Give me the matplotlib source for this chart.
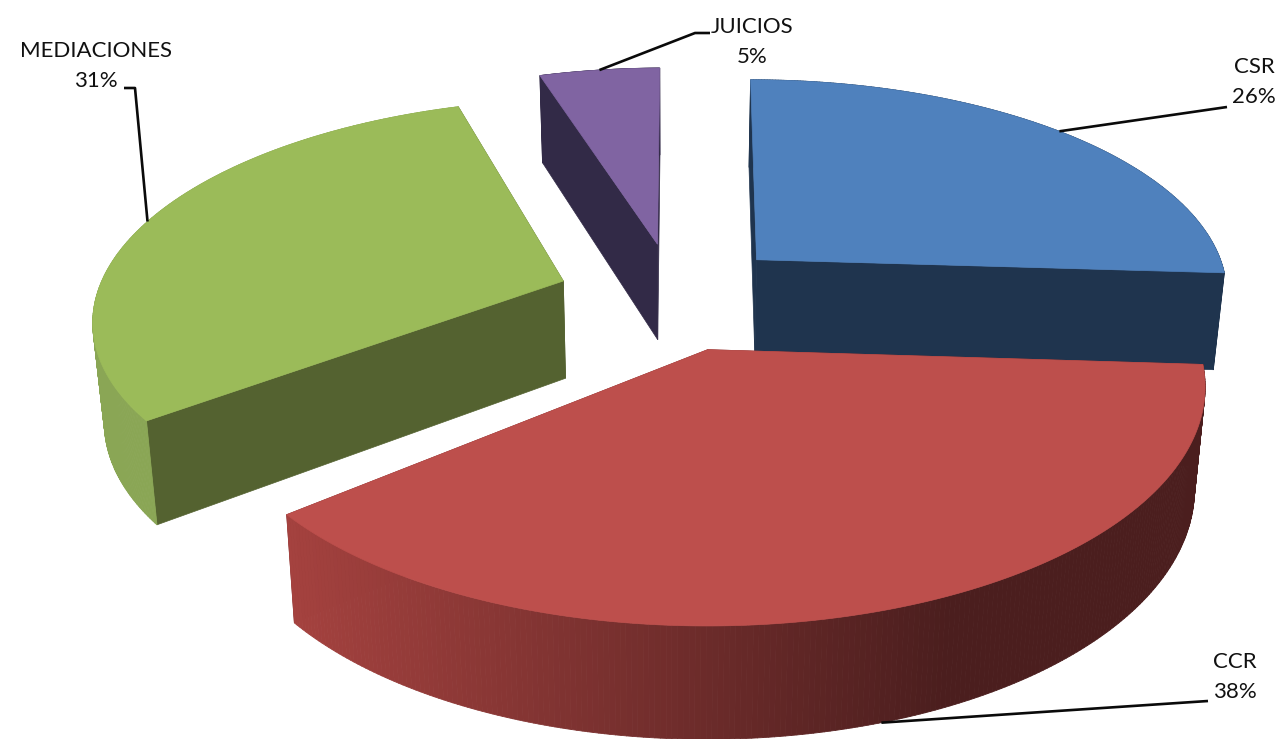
import numpy as np
import matplotlib
matplotlib.use("Agg")
import matplotlib.pyplot as plt
from matplotlib.collections import PolyCollection
from matplotlib.colors import to_rgb

labels = ["CSR", "CCR", "MEDIACIONES", "JUICIOS"]
values = [26, 38, 31, 5]
top_colors = ["#4f81bd", "#bd4f4c", "#9bbb59", "#8064a2"]
wall_colors = ["#1f344e", "#7a2f2d", "#546230", "#322a47"]
rim_colors = [("#1f344e", "#1f344e"), ("#4b1e1e", "#a5423f"), ("#8aa655", "#8aa655"), ("#322a47", "#322a47")]
draw_order = [3, 2, 0, 1]
label_pos = [(1254, 82), (1235, 677), (96, 66), (752, 42)]
elbow_pos = [(1227, 107), (1208, 701), (135, 88), (695, 33)]
elbow_end = [(1227, 107), (1208, 701), (124, 88), (710, 33)]
start_shift = [0, 0, 2.0, 0]      # degrees
end_shift = [0, 0, 0.2, -0.7]     # degrees
slice_dx = [0, 0, 5, 3]           # pixels
slice_scale = [1, 0.995, 0.98, 1]

CX, CY, RX, RY, P, H, EXPL, BOT, SHEAR = 671, 296, 476, 217.5, 0.152, 98, 0.25, 0.98, 6

fig = plt.figure(figsize=(12.83, 7.39), dpi=100)
ax = fig.add_axes([0, 0, 1, 1])
ax.set_xlim(0, 1283)
ax.set_ylim(739, 0)
ax.axis("off")


def project(X, Y, bottom=False, dx=0):
    w = 1 + P * Y
    x = CX + dx + (RX * X + SHEAR * Y) / w
    y = CY - RY * Y / w
    if bottom:
        x = CX + (x - CX) * BOT
        y = y + H / w ** 0.7
    return x, y


fracs = np.array(values) / sum(values)
edges = np.concatenate([[0], np.cumsum(fracs)]) * 2 * np.pi

for i in draw_order:
    a0, a1 = edges[i], edges[i + 1]
    mid = (a0 + a1) / 2
    ox, oy = EXPL * np.sin(mid), EXPL * np.cos(mid)
    th = np.linspace(a0 + np.radians(start_shift[i]), a1 + np.radians(end_shift[i]), 240)
    X = ox + slice_scale[i] * np.sin(th)
    Y = oy + slice_scale[i] * np.cos(th)
    dx = slice_dx[i]
    tx, ty = project(X, Y, dx=dx)
    bx, by = project(X, Y, True, dx=dx)
    apx, apy = project(ox, oy, dx=dx)
    abx, aby = project(ox, oy, True, dx=dx)
    # cut faces
    for px, py, qx, qy in ((tx[0], ty[0], bx[0], by[0]), (tx[-1], ty[-1], bx[-1], by[-1])):
        ax.fill([apx, px, qx, abx], [apy, py, qy, aby], color=wall_colors[i], lw=0.5, zorder=1)
    # outer rim
    c_right, c_left = np.array(to_rgb(rim_colors[i][0])), np.array(to_rgb(rim_colors[i][1]))
    quads, cols = [], []
    for k in range(len(th) - 1):
        quads.append([(tx[k], ty[k]), (tx[k + 1], ty[k + 1]), (bx[k + 1], by[k + 1]), (bx[k], by[k])])
        t = np.clip((950 - tx[k]) / (950 - 287), 0, 1)
        cols.append(c_right + (c_left - c_right) * t)
    ax.add_collection(PolyCollection(quads, facecolors=cols, edgecolors=cols, linewidths=0.6, zorder=1))
    ax.fill(np.r_[apx, tx], np.r_[apy, ty], color=top_colors[i], lw=0.5, zorder=1)
    # leader
    m2 = (th[0] + th[-1]) / 2
    lx, ly = project(ox + slice_scale[i] * np.sin(m2), oy + slice_scale[i] * np.cos(m2), i == 1, dx=dx)
    ex, ey = elbow_pos[i]
    fx, fy = elbow_end[i]
    ax.plot([lx, ex, fx], [ly, ey, fy], color="#0a0a0a", lw=1.9, zorder=2, solid_capstyle="butt")
    ax.text(*label_pos[i], f"{labels[i]}\n{values[i]}%", ha="center", va="center",
            fontsize=16, family="Lato", color="#111111", linespacing=1.62, zorder=3)

fig.savefig("out.png", dpi=100)
